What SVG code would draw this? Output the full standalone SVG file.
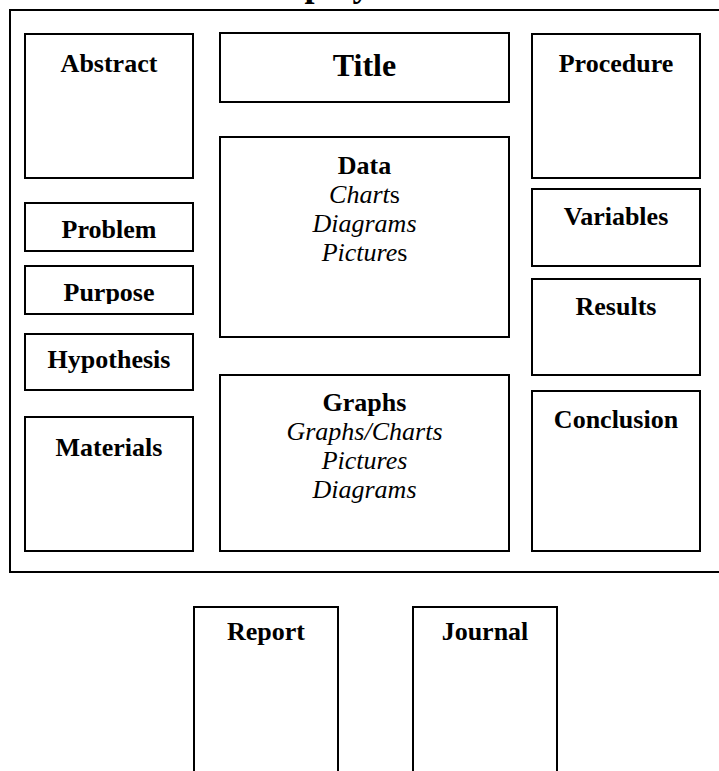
<svg xmlns="http://www.w3.org/2000/svg" width="719" height="771" viewBox="0 0 719 771">
<style>
.box{fill:#fff;stroke:#000;stroke-width:2}
.frame{fill:none;stroke:#000;stroke-width:2}
text{font-family:"Liberation Serif","Times New Roman",serif;fill:#000;text-anchor:middle}
.b{font-weight:bold;font-size:26px}
.i{font-style:italic;font-size:26px}
.n{font-style:normal}
</style>
<defs>
<clipPath id="cpPurpose"><rect x="25" y="266" width="168" height="38"/></clipPath>
</defs>
<rect width="719" height="771" fill="#fff"/>
<text x="365" y="-4" style="font-weight:bold;font-size:36px">Display Board</text>
<rect class="frame" x="10" y="10" width="730" height="562"/>
<g id="connectors"></g>
<g id="abstract"><rect class="box" x="25" y="34" width="168" height="144"/><text class="b" x="109" y="72">Abstract</text></g>
<g id="title"><rect class="box" x="220" y="33" width="289" height="69"/><text x="364.5" y="76" style="font-weight:bold;font-size:32px">Title</text></g>
<g id="procedure"><rect class="box" x="532" y="34" width="168" height="144"/><text class="b" x="616" y="72">Procedure</text></g>
<g id="problem"><rect class="box" x="25" y="203" width="168" height="48"/><text class="b" x="109" y="238">Problem</text></g>
<g id="purpose"><rect class="box" x="25" y="266" width="168" height="48"/><text class="b" x="109" y="301" clip-path="url(#cpPurpose)">Purpose</text></g>
<g id="hypothesis"><rect class="box" x="25" y="334" width="168" height="56"/><text class="b" x="109" y="368">Hypothesis</text></g>
<g id="materials"><rect class="box" x="25" y="417" width="168" height="134"/><text class="b" x="109" y="456">Materials</text></g>
<g id="data"><rect class="box" x="220" y="137" width="289" height="200"/>
<text class="b" x="364.5" y="174">Data</text>
<text class="i" x="364.5" y="203">Chart<tspan class="n">s</tspan></text>
<text class="i" x="364.5" y="232">Diagrams</text>
<text class="i" x="364.5" y="261">Picture<tspan class="n">s</tspan></text>
</g>
<g id="graphs"><rect class="box" x="220" y="375" width="289" height="176"/>
<text class="b" x="364.5" y="411">Graphs</text>
<text class="i" x="364.5" y="440">Graphs/Charts</text>
<text class="i" x="364.5" y="469">Pictures</text>
<text class="i" x="364.5" y="498">Diagrams</text>
</g>
<g id="variables"><rect class="box" x="532" y="189" width="168" height="77"/><text class="b" x="616" y="225">Variables</text></g>
<g id="results"><rect class="box" x="532" y="279" width="168" height="96"/><text class="b" x="616" y="315">Results</text></g>
<g id="conclusion"><rect class="box" x="532" y="391" width="168" height="160"/><text class="b" x="616" y="428">Conclusion</text></g>
<g id="report"><rect class="box" x="194" y="607" width="144" height="180"/><text class="b" x="266" y="640">Report</text></g>
<g id="journal"><rect class="box" x="413" y="607" width="144" height="180"/><text class="b" x="485" y="640">Journal</text></g>
</svg>
